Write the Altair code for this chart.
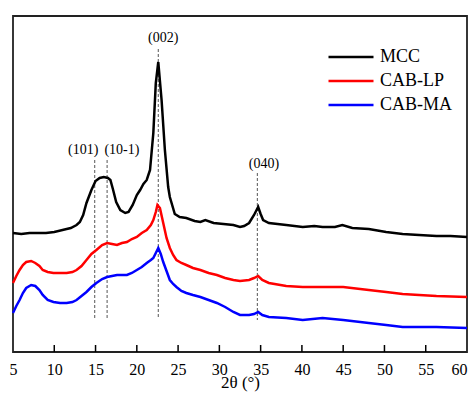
import altair as alt
import pandas as pd

# ---- data ----
mcc_x = [5.0, 6, 7, 8, 9, 10, 11, 11.5, 12, 12.7, 13.1, 13.5, 13.9, 14.5, 15.0, 15.5, 16.0, 16.5, 16.8, 17.1, 17.5,
         18.0, 18.6, 19.0, 19.5, 20.0, 20.4, 20.8, 21.2, 21.6, 22.0, 22.3, 22.6, 23.0, 23.4, 23.8, 24.0, 24.6, 25.2,
         26.0, 27, 27.7, 28.3, 29.3, 30.5, 31.7, 32.5, 33.0, 33.6, 34.2, 34.7, 35.0, 35.3, 36.0, 38.1, 40.1, 41.5,
         42.5, 44, 44.9, 46.1, 48.1, 50.2, 52.2, 54.2, 56.3, 58, 60]
mcc_y = [119, 118, 119, 119, 119, 120, 122, 123, 124, 127, 130, 137, 149, 162, 171, 174, 175, 174, 172, 163, 150,
         142, 139, 140, 147, 157, 162, 168, 172, 182, 219, 269, 290, 252, 202, 165, 155, 138, 135,
         134, 131, 130, 132, 129, 128, 127, 125, 126, 129, 137, 145, 138, 132, 129, 127, 125, 126,
         125, 125, 127, 124, 123, 120, 118, 117, 116, 116, 115]

lp_x = [5.0, 5.4, 5.8, 6.2, 6.6, 7.2, 7.7, 8.2, 8.6, 9.2, 9.9, 10.7, 11.5, 12.2, 12.7, 13.3, 13.9, 14.5, 15.1, 15.8,
        16.4, 17.0, 17.6, 18.2, 18.8, 19.4, 20.0, 20.6, 21.2, 21.7, 22.0, 22.3, 22.5, 22.8, 23.2, 23.6, 24.0, 24.4,
        24.8, 25.4, 26.0, 26.8, 27.7, 28.7, 29.7, 30.7, 31.7, 32.5, 33.6, 34.2, 34.7, 35.2, 36.0, 38.1, 40.1, 42.1,
        45, 48.1, 50.2, 52.2, 54.2, 56.3, 60]
lp_y = [69, 76, 82, 87, 90, 91, 89, 86, 82, 80, 79, 79, 79, 80, 82, 86, 92, 98, 102, 107,
        109, 108, 107, 109, 110, 113, 115, 119, 122, 127, 132, 140, 147, 144, 129, 114, 104, 97,
        92, 89, 87, 84, 82, 79, 77, 74, 72, 71, 72, 74, 76, 72, 69, 66, 65, 65,
        65, 62, 60, 58, 57, 56, 55]

ma_x = [5.0, 5.4, 5.8, 6.2, 6.6, 7.2, 7.7, 8.2, 8.6, 9.2, 9.9, 10.7, 11.5, 12.2, 12.7, 13.3, 13.9, 14.5, 15.1, 15.8,
        16.4, 17.0, 17.6, 18.2, 18.8, 19.4, 20.0, 20.6, 21.2, 21.7, 22.0, 22.3, 22.6, 22.9, 23.2, 23.6, 24.0, 24.4,
        24.8, 25.4, 26.0, 26.8, 27.7, 28.7, 29.7, 30.7, 31.7, 32.5, 33.6, 34.2, 34.7, 35.2, 36.0, 38.1, 40.1, 42.5,
        45, 48.1, 50.2, 52.2, 54.2, 56.3, 60]
ma_y = [39, 46, 52, 59, 64, 67, 66, 62, 57, 52, 50, 49, 49, 50, 52, 56, 60, 65, 69, 73,
        75, 76, 77, 77, 77, 79, 82, 85, 89, 92, 94, 99, 104, 98, 90, 81, 72, 68,
        65, 61, 59, 57, 55, 52, 49, 45, 40, 37, 37, 38, 40, 37, 35, 34, 32, 34,
        32, 29, 27, 25, 25, 25, 24]

series_names = ["MCC", "CAB-LP", "CAB-MA"]
series_colors = ["#000000", "#ff0000", "#0000ff"]

peak_labels = ["(101)", "(10-1)", "(002)", "(040)"]
peak_pos = [14.9, 16.4, 22.6, 34.6]
peak_top = [192, 192, 303, 179]
peak_bottom = [34, 34, 34, 32]
label_x = [13.5, 18.2, 23.2, 35.4]
label_y = [202, 202, 314, 188]

tick_values = [10, 15, 20, 25, 30, 35, 40, 45, 50, 55]

# ---- tables ----
rows = []
for name, xs, ys in zip(series_names, [mcc_x, lp_x, ma_x], [mcc_y, lp_y, ma_y]):
    for i, (a, b) in enumerate(zip(xs, ys)):
        rows.append({"series": name, "theta": a, "intensity": b, "order": i})
df = pd.DataFrame(rows)
peaks = pd.DataFrame({"label": peak_labels, "pos": peak_pos, "top": peak_top, "bottom": peak_bottom,
                      "lx": label_x, "ly": label_y})
ticks = pd.DataFrame({"t": tick_values})

FONT = "Liberation Serif, Times New Roman, serif"
xscale = alt.Scale(domain=[5, 60], nice=False, zero=False)
yscale = alt.Scale(domain=[0, 336], nice=False, zero=False)
xaxis = alt.Axis(values=list(range(5, 61, 5)), title="2θ (°)", domain=False, ticks=False,
                 grid=False, labelFont=FONT, labelFontSize=16, labelColor="black",
                 labelAlign={"condition": {"test": "datum.value == 60", "value": "right"}, "value": "center"},
                 labelPadding=9, titleFont=FONT, titleFontSize=17, titleFontWeight="normal",
                 titleColor="black", titleBaseline="middle", titleY=30, labelFlush=False)

lines = alt.Chart(df).mark_line(strokeWidth=2.5).encode(
    x=alt.X("theta:Q", scale=xscale, axis=xaxis),
    y=alt.Y("intensity:Q", scale=yscale, axis=None),
    order="order:Q",
    color=alt.Color("series:N", scale=alt.Scale(domain=series_names, range=series_colors),
                    legend=alt.Legend(title=None, orient="none", legendX=314, legendY=32,
                                      symbolType="M-1,0H5", symbolSize=225, symbolStrokeWidth=2.5,
                                      labelFont=FONT, labelFontSize=18, labelColor="black",
                                      labelOffset=35, rowPadding=6)),
)

rules = alt.Chart(peaks).mark_rule(color="#555555", strokeWidth=1, strokeDash=[3, 2]).encode(
    x=alt.X("pos:Q", scale=xscale, axis=xaxis),
    y=alt.Y("top:Q", scale=yscale, axis=None),
    y2="bottom:Q",
)

texts = alt.Chart(peaks).mark_text(font=FONT, fontSize=14, color="black").encode(
    x=alt.X("lx:Q", scale=xscale, axis=xaxis),
    y=alt.Y("ly:Q", scale=yscale, axis=None),
    text="label:N",
)

tickmarks = alt.Chart(ticks).mark_rule(color="black", strokeWidth=1.5).encode(
    x=alt.X("t:Q", scale=xscale, axis=xaxis),
    y=alt.value(336),
    y2=alt.value(329),
)

chart = alt.layer(rules, lines, texts, tickmarks).properties(
    width=454, height=336,
    autosize=alt.AutoSizeParams(type="none"),
    padding={"left": 5, "top": 8, "right": 1, "bottom": 40},
).configure_view(stroke="#222222", strokeWidth=1.8)

chart.save("out.html", embed_options={"renderer": "svg", "actions": False})
